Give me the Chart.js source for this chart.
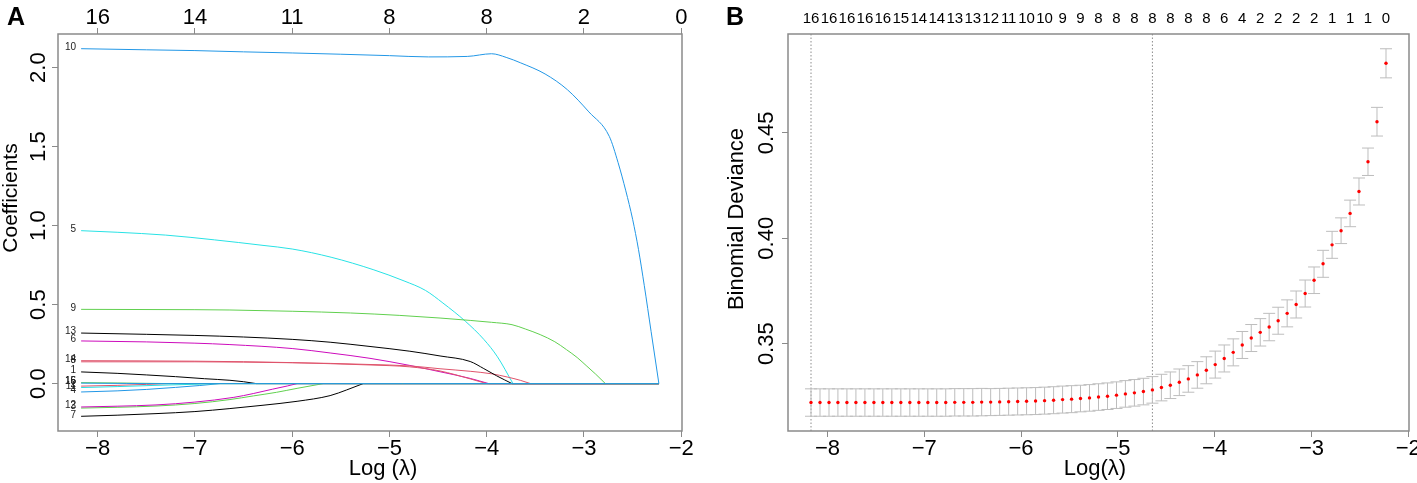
<!DOCTYPE html>
<html>
<head>
<meta charset="utf-8">
<script src="https://cdn.jsdelivr.net/npm/chart.js@4.4.1/dist/chart.umd.min.js"></script>
<style>
  html, body { margin: 0; padding: 0; background: #fff; }
  #wrap { position: relative; width: 1417px; height: 483px; overflow: hidden; }
  canvas { position: absolute; top: 0; }
  #panelA { left: 0; }
  #panelB { left: 708px; }
</style>
</head>
<body>
<div id="wrap">
  <canvas id="panelA" width="708" height="483"></canvas>
  <canvas id="panelB" width="709" height="483"></canvas>
</div>
<script>
// ---- panel A: coefficient paths, [log(lambda), coefficient]
const path1 = [[-8.17,0.074],[-7.8,0.065],[-7.5,0.055],[-7.2,0.044],[-6.9,0.031],[-6.64,0.021],[-6.5,0.012],[-6.37,0]];
const path2 = [[-8.17,-0.016],[-7.8,-0.011],[-7.5,-0.005],[-7.25,0]];
const path3 = [[-8.17,-0.155],[-7.8,-0.150],[-7.4,-0.142],[-7.0,-0.126],[-6.64,-0.101],[-6.4,-0.078],[-6.16,-0.055],[-5.95,-0.03],[-5.68,0]];
const path4 = [[-8.17,-0.053],[-7.8,-0.046],[-7.5,-0.037],[-7.2,-0.024],[-6.95,-0.012],[-6.74,0]];
const path5 = [[-8.17,0.968],[-7.8,0.958],[-7.3,0.94],[-6.8,0.91],[-6.3,0.875],[-6.0,0.852],[-5.6,0.8],[-5.16,0.72],[-4.85,0.65],[-4.63,0.59],[-4.45,0.51],[-4.22,0.395],[-4.03,0.28],[-3.89,0.17],[-3.73,0]];
const path6 = [[-8.17,0.27],[-7.5,0.264],[-7.0,0.256],[-6.64,0.247],[-6.0,0.222],[-5.61,0.194],[-5.2,0.16],[-4.79,0.115],[-4.48,0.075],[-4.17,0.033],[-3.98,0]];
const path7 = [[-8.17,-0.207],[-7.8,-0.200],[-7.4,-0.190],[-7.0,-0.177],[-6.64,-0.158],[-6.3,-0.137],[-5.95,-0.112],[-5.61,-0.076],[-5.44,-0.04],[-5.27,0]];
const path8 = [[-8.17,0.138],[-7.0,0.138],[-6.0,0.132],[-5.61,0.128],[-5.2,0.121],[-4.79,0.112],[-4.48,0.094],[-4.17,0.078],[-3.95,0.062],[-3.79,0.042],[-3.65,0.02],[-3.55,0]];
const path9 = [[-8.17,0.47],[-7.0,0.468],[-6.64,0.466],[-6.0,0.458],[-5.4,0.447],[-4.9,0.432],[-4.48,0.415],[-4.17,0.40],[-3.95,0.388],[-3.74,0.373],[-3.6,0.345],[-3.45,0.31],[-3.3,0.265],[-3.18,0.215],[-3.07,0.165],[-2.97,0.11],[-2.88,0.06],[-2.78,0]];
const path10 = [[-8.17,2.12],[-7.5,2.113],[-7.0,2.108],[-6.5,2.10],[-6.0,2.093],[-5.5,2.085],[-5.0,2.076],[-4.6,2.068],[-4.2,2.071],[-3.95,2.088],[-3.8,2.065],[-3.65,2.03],[-3.4,1.96],[-3.17,1.86],[-2.95,1.72],[-2.74,1.565],[-2.65,1.40],[-2.57,1.22],[-2.5,1.04],[-2.44,0.85],[-2.38,0.62],[-2.31,0.33],[-2.23,0]];
const path11 = [[-8.17,-0.025],[-7.8,-0.019],[-7.4,-0.011],[-7.0,-0.004],[-6.8,0]];
const path12 = [[-8.17,-0.148],[-7.8,-0.143],[-7.4,-0.135],[-7.0,-0.117],[-6.6,-0.087],[-6.4,-0.063],[-6.2,-0.035],[-6.05,-0.015],[-5.95,0]];
const path13 = [[-8.17,0.32],[-7.5,0.312],[-7.0,0.305],[-6.5,0.295],[-6.0,0.28],[-5.61,0.262],[-5.2,0.235],[-4.79,0.205],[-4.48,0.175],[-4.17,0.14],[-4.03,0.095],[-3.9,0.05],[-3.74,0]];
const path14 = [[-8.17,0.145],[-7.0,0.142],[-6.0,0.133],[-5.61,0.126],[-5.2,0.118],[-4.79,0.106],[-4.48,0.08],[-4.17,0.03],[-4.0,0]];
const path15 = [[-8.17,0.006],[-7.8,0.004],[-7.4,0.001],[-7.2,0]];
const path16 = [[-8.17,0.003],[-7.7,0.001],[-7.5,0]];
const coefPaths = [path1, path2, path3, path4, path5, path6, path7, path8,
                   path9, path10, path11, path12, path13, path14, path15, path16];
const varNames = ['1','2','3','4','5','6','7','8','9','10','11','12','13','14','15','16'];
const pathEnd = -2.23;   // last lambda on the path

const xTicks = [-8, -7, -6, -5, -4, -3, -2];
const dfTopA = ['16', '14', '11', '8', '8', '2', '0'];
const yTicksA = [0, 0.5, 1, 1.5, 2];
const yLabelsA = ['0.0', '0.5', '1.0', '1.5', '2.0'];

// ---- panel B: cross-validation curve
const cvLogLambda = [
  -8.170,-8.077,-7.984,-7.892,-7.799,-7.706,-7.613,-7.520,-7.428,-7.335,
  -7.242,-7.149,-7.056,-6.963,-6.871,-6.778,-6.685,-6.592,-6.499,-6.407,
  -6.314,-6.221,-6.128,-6.035,-5.943,-5.850,-5.757,-5.664,-5.571,-5.478,
  -5.386,-5.293,-5.200,-5.107,-5.014,-4.922,-4.829,-4.736,-4.643,-4.550,
  -4.458,-4.365,-4.272,-4.179,-4.086,-3.994,-3.901,-3.808,-3.715,-3.622,
  -3.529,-3.437,-3.344,-3.251,-3.158,-3.065,-2.973,-2.880,-2.787,-2.694,
  -2.601,-2.509,-2.416,-2.323,-2.230];
const cvMean = [
  0.3221,0.3221,0.3221,0.3221,0.3221,0.3221,0.3221,0.3221,0.3221,0.3221,
  0.3221,0.3221,0.3221,0.3221,0.3221,0.3221,0.3222,0.3222,0.3222,0.3223,
  0.3223,0.3224,0.3225,0.3226,0.3227,0.3228,0.3230,0.3232,0.3235,0.3237,
  0.3240,0.3243,0.3247,0.3251,0.3256,0.3262,0.3267,0.3273,0.3281,0.3292,
  0.3303,0.3317,0.3333,0.3352,0.3374,0.3401,0.3430,0.3459,0.3494,0.3527,
  0.3554,0.3579,0.3609,0.3644,0.3686,0.3738,0.3801,0.3879,0.3969,0.4036,
  0.4118,0.4222,0.4363,0.4553,0.4830];
const cvSE = [
  0.0065,0.0065,0.0065,0.0065,0.0065,0.0065,0.0065,0.0065,0.0065,0.0065,
  0.0065,0.0065,0.0065,0.0065,0.0065,0.0065,0.0065,0.0065,0.0065,0.0065,
  0.0064,0.0064,0.0064,0.0064,0.0064,0.0064,0.0064,0.0064,0.0064,0.0064,
  0.0063,0.0063,0.0063,0.0063,0.0063,0.0063,0.0063,0.0063,0.0063,0.0063,
  0.0063,0.0063,0.0063,0.0063,0.0064,0.0064,0.0064,0.0064,0.0064,0.0064,
  0.0065,0.0065,0.0064,0.0064,0.0064,0.0064,0.0063,0.0064,0.0064,0.0061,
  0.0063,0.0064,0.0065,0.0068,0.0069];
// number of non-zero coefficients, shown above every second lambda
const cvNzLabels = ['16','16','16','16','16','15','14','14','13','13','12','11','10','10','9','9','8',
                    '8','8','8','8','8','8','6','4','2','2','2','2','1','1','1','0'];
const lambdaMinIdx = 0;
const lambda1seIdx = 38;
const yTicksB = [0.35, 0.40, 0.45];
const yLabelsB = ['0.35', '0.40', '0.45'];

// ---- styling
const FONT = '"Liberation Sans", Arial, Helvetica, sans-serif';
const pathColors = ['#000000', '#DF536B', '#61D04F', '#2297E6', '#28E2E5', '#CD0BBC'];
const boxGray = '#8a8a8a';
const xMin = -8.4076, xMax = -1.9924;

Chart.defaults.font.family = FONT;
Chart.defaults.animation = false;

function font(px, bold) {
    return (bold ? 'bold ' : '') + px + 'px ' + FONT;
}

function minusLabel(v) {
    return v < 0 ? '\u2212' + Math.abs(v) : String(v);
}

function fixedTicks(values) {
    return scale => { scale.ticks = values.map(v => ({ value: v })); };
}

function axisConfig(position, min, max, values, size, showTicks) {
    return {
        type: 'linear',
        position: position,
        min: min,
        max: max,
        afterBuildTicks: fixedTicks(values),
        ticks: { display: false },
        grid: { display: showTicks, drawOnChartArea: false, drawTicks: true, tickLength: 6, color: boxGray, lineWidth: 1 },
        border: { display: false },
        afterFit: scale => {
            if (scale.isHorizontal()) scale.height = size;
            else scale.width = size;
        }
    };
}

function rotatedText(ctx, text, x, y) {
    ctx.save();
    ctx.translate(x, y);
    ctx.rotate(-Math.PI / 2);
    ctx.fillText(text, 0, 0);
    ctx.restore();
}

function drawBox(ctx, a) {
    ctx.strokeStyle = boxGray;
    ctx.lineWidth = 1.5;
    ctx.strokeRect(a.left, a.top, a.right - a.left, a.bottom - a.top);
}

// ---- panel A chart
const datasetsA = [];
coefPaths.forEach((path, k) => {
    const color = pathColors[k % pathColors.length];
    const last = path[path.length - 1];
    datasetsA.push({
        label: varNames[k],
        data: path.map(p => ({ x: p[0], y: p[1] })),
        borderColor: color,
        order: coefPaths.length - k
    });
    if (last[0] < pathEnd) {
        datasetsA.push({
            label: varNames[k] + ' (zero)',
            data: [{ x: last[0], y: 0 }, { x: pathEnd, y: 0 }],
            borderColor: color,
            order: coefPaths.length - k
        });
    }
});

const pathPlugin = {
    id: 'pathText',
    afterDraw(chart) {
        const { ctx, chartArea: a, scales } = chart;
        ctx.save();
        drawBox(ctx, a);
        ctx.fillStyle = '#000';
        ctx.textAlign = 'center';
        ctx.textBaseline = 'middle';
        ctx.font = font(22);
        xTicks.forEach(v => ctx.fillText(minusLabel(v), scales.x.getPixelForValue(v), 449));
        xTicks.forEach((v, i) => ctx.fillText(dfTopA[i], scales.x2.getPixelForValue(v), 18));
        yTicksA.forEach((v, i) => rotatedText(ctx, yLabelsA[i], 39, scales.y.getPixelForValue(v)));
        ctx.font = font(21);
        rotatedText(ctx, 'Coefficients', 11, 198);
        ctx.font = font(22);
        ctx.fillText('Log (\u03bb)', 383, 469);
        ctx.font = font(25, true);
        ctx.textAlign = 'left';
        ctx.fillText('A', 7, 18);
        // variable numbers at the left end of each path
        ctx.font = font(10);
        ctx.textAlign = 'right';
        ctx.fillStyle = '#222';
        coefPaths.forEach((path, k) => {
            ctx.fillText(varNames[k], scales.x.getPixelForValue(path[0][0]) - 5,
                         scales.y.getPixelForValue(path[0][1]) - 1.5);
        });
        ctx.restore();
    }
};

new Chart(document.getElementById('panelA'), {
    type: 'line',
    data: { datasets: datasetsA },
    options: {
        responsive: false,
        events: [],
        layout: { padding: { left: 0, right: 26, top: 0, bottom: 0 } },
        elements: {
            line: { borderWidth: 1, cubicInterpolationMode: 'monotone', fill: false },
            point: { radius: 0 }
        },
        plugins: { legend: { display: false }, tooltip: { enabled: false } },
        scales: {
            x: axisConfig('bottom', xMin, xMax, xTicks, 52, true),
            x2: axisConfig('top', xMin, xMax, xTicks, 34, true),
            y: axisConfig('left', -0.300, 2.213, yTicksA, 58, true)
        }
    },
    plugins: [pathPlugin]
});

// ---- panel B chart
const cvPlugin = {
    id: 'cvBars',
    beforeDatasetsDraw(chart) {
        const { ctx, chartArea: a, scales } = chart;
        ctx.save();
        // dotted lines at lambda.min and lambda.1se
        ctx.strokeStyle = '#8c8c8c';
        ctx.lineWidth = 1;
        ctx.setLineDash([1.5, 2]);
        [lambdaMinIdx, lambda1seIdx].forEach(i => {
            const x = scales.x.getPixelForValue(cvLogLambda[i]);
            ctx.beginPath();
            ctx.moveTo(x, a.top);
            ctx.lineTo(x, a.bottom);
            ctx.stroke();
        });
        ctx.setLineDash([]);
        // error bars, mean +/- 1 se
        ctx.strokeStyle = '#bdbdbd';
        cvLogLambda.forEach((lx, i) => {
            const x = scales.x.getPixelForValue(lx);
            const yUp = scales.y.getPixelForValue(cvMean[i] + cvSE[i]);
            const yLo = scales.y.getPixelForValue(cvMean[i] - cvSE[i]);
            ctx.beginPath();
            ctx.moveTo(x, yUp); ctx.lineTo(x, yLo);
            ctx.moveTo(x - 6, yUp); ctx.lineTo(x + 6, yUp);
            ctx.moveTo(x - 6, yLo); ctx.lineTo(x + 6, yLo);
            ctx.stroke();
        });
        ctx.restore();
    },
    afterDraw(chart) {
        const { ctx, chartArea: a, scales } = chart;
        ctx.save();
        drawBox(ctx, a);
        ctx.fillStyle = '#000';
        ctx.textAlign = 'center';
        ctx.textBaseline = 'middle';
        ctx.font = font(22);
        xTicks.forEach(v => ctx.fillText(minusLabel(v), scales.x.getPixelForValue(v), 449));
        yTicksB.forEach((v, i) => rotatedText(ctx, yLabelsB[i], 59, scales.y.getPixelForValue(v)));
        rotatedText(ctx, 'Binomial Deviance', 29, 219);
        ctx.fillText('Log(\u03bb)', 387, 469);
        ctx.font = font(15);
        cvNzLabels.forEach((t, k) => ctx.fillText(t, scales.x2.getPixelForValue(cvLogLambda[2 * k]), 19));
        ctx.font = font(25, true);
        ctx.textAlign = 'left';
        ctx.fillText('B', 18, 18);
        ctx.restore();
    }
};

new Chart(document.getElementById('panelB'), {
    type: 'scatter',
    data: {
        datasets: [{
            label: 'Mean CV deviance',
            data: cvLogLambda.map((x, i) => ({ x: x, y: cvMean[i] })),
            backgroundColor: '#ff0000',
            borderWidth: 0,
            pointRadius: 1.7
        }]
    },
    options: {
        responsive: false,
        events: [],
        layout: { padding: { left: 0, right: 8, top: 0, bottom: 0 } },
        plugins: { legend: { display: false }, tooltip: { enabled: false } },
        scales: {
            x: axisConfig('bottom', xMin, xMax, xTicks, 52, true),
            x2: axisConfig('top', xMin, xMax, cvLogLambda.filter((v, i) => i % 2 === 0), 34, false),
            y: axisConfig('left', 0.3086, 0.4969, yTicksB, 80, true)
        }
    },
    plugins: [cvPlugin]
});
</script>
</body>
</html>
